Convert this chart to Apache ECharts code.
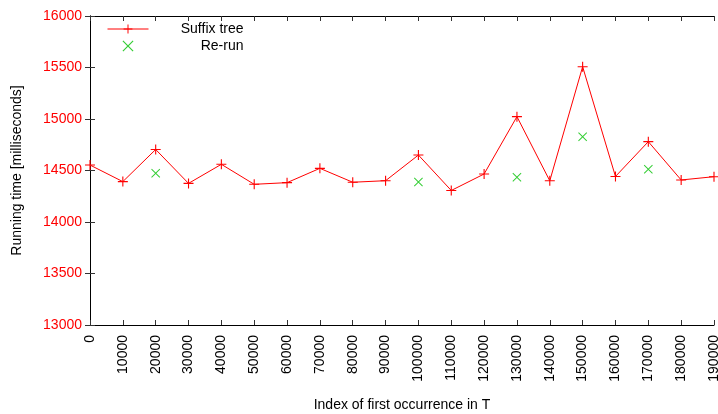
<!DOCTYPE html>
<html>
<head>
<meta charset="utf-8">
<script src="https://cdn.jsdelivr.net/npm/echarts@6/dist/echarts.min.js"></script>
<style>
  html, body { margin: 0; padding: 0; background: #fff; }
  #chart { width: 718px; height: 414px; }
</style>
</head>
<body>
<div id="chart"></div>
<script>
// Running time per search position
const positions = [0, 10000, 20000, 30000, 40000, 50000, 60000, 70000, 80000, 90000,
  100000, 110000, 120000, 130000, 140000, 150000, 160000, 170000, 180000, 190000];
const suffixTreeMs = [14553, 14392, 14704, 14375, 14560, 14366, 14382, 14521, 14386, 14401,
  14650, 14306, 14466, 15023, 14400, 15508, 14442, 14780, 14408, 14440];

// Repeated measurements for the outliers
const rerunPositions = [20000, 100000, 130000, 150000, 170000];
const rerunMs = [14473, 14388, 14434, 14828, 14512];

const yTicks = { min: 13000, max: 16000, step: 500 };
const xTicks = { min: 0, max: 190000, step: 10000 };

const FONT = 'Liberation Sans, Arial, Helvetica, sans-serif';
const PLUS = 'path://M4.45,0h1.1v4.45h4.45v1.1h-4.45v4.45h-1.1v-4.45h-4.45v-1.1h4.45z';
const CROSS = 'path://M0,0.75L0.75,0L5,4.25L9.25,0L10,0.75L5.75,5L10,9.25L9.25,10L5,5.75L0.75,10L0,9.25L4.25,5z';

const plain = v => String(v);

const chart = echarts.init(document.getElementById('chart'), null, { renderer: 'canvas' });

const frameAxis = {
  axisLine: { show: true, lineStyle: { color: '#000', width: 1 } },
  axisTick: { show: true, inside: true, length: 5, lineStyle: { color: '#333' } },
  splitLine: { show: false }
};

chart.setOption({
  animation: false,
  backgroundColor: '#fff',
  textStyle: { fontFamily: FONT },
  grid: { left: 90, right: 4, top: 16, bottom: 89, containLabel: false, outerBoundsMode: 'none' },
  legend: {
    orient: 'vertical',
    left: 107,
    top: 22,
    padding: 0,
    itemWidth: 41,
    itemHeight: 11,
    itemGap: 3,
    selectedMode: false,
    lineStyle: { width: 1 },
    data: ['Suffix tree', 'Re-run'],
    formatter: '{t|{name}}',
    textStyle: {
      fontFamily: FONT,
      fontSize: 14,
      color: '#000',
      rich: { t: { width: 90, align: 'right', fontSize: 14, lineHeight: 14, fontFamily: FONT } }
    }
  },
  xAxis: [
    Object.assign({
      type: 'value', position: 'bottom',
      min: xTicks.min, max: xTicks.max, interval: xTicks.step,
      name: 'Index of first occurrence in T',
      nameLocation: 'middle', nameGap: 73,
      nameTextStyle: { fontSize: 14, color: '#000', fontFamily: FONT },
      axisLabel: { rotate: 90, fontSize: 14, color: '#000', margin: 10, fontFamily: FONT,
        showMinLabel: true, showMaxLabel: true, formatter: plain }
    }, frameAxis),
    Object.assign({
      type: 'value', position: 'top',
      min: xTicks.min, max: xTicks.max, interval: xTicks.step,
      axisLabel: { show: false }
    }, frameAxis)
  ],
  yAxis: [
    Object.assign({
      type: 'value', position: 'left',
      min: yTicks.min, max: yTicks.max, interval: yTicks.step,
      name: 'Running time [milliseconds]',
      nameLocation: 'middle', nameGap: 66, nameRotate: 90,
      nameTextStyle: { fontSize: 14, color: '#000', fontFamily: FONT },
      axisLabel: { fontSize: 14, color: '#ff0000', margin: 8, fontFamily: FONT, formatter: plain }
    }, frameAxis),
    Object.assign({
      type: 'value', position: 'right',
      min: yTicks.min, max: yTicks.max, interval: yTicks.step,
      axisLabel: { show: false }
    }, frameAxis)
  ],
  series: [
    {
      name: 'Suffix tree',
      type: 'line',
      xAxisIndex: 0, yAxisIndex: 0,
      data: positions.map((x, i) => [x, suffixTreeMs[i]]),
      symbol: PLUS,
      symbolSize: 10,
      showSymbol: true,
      clip: false,
      itemStyle: { color: '#ff0000' },
      lineStyle: { color: '#ff0000', width: 1 }
    },
    {
      name: 'Re-run',
      type: 'scatter',
      xAxisIndex: 0, yAxisIndex: 0,
      data: rerunPositions.map((x, i) => [x, rerunMs[i]]),
      symbol: CROSS,
      symbolSize: 9,
      itemStyle: { color: '#00c000' }
    }
  ]
});
</script>
</body>
</html>
